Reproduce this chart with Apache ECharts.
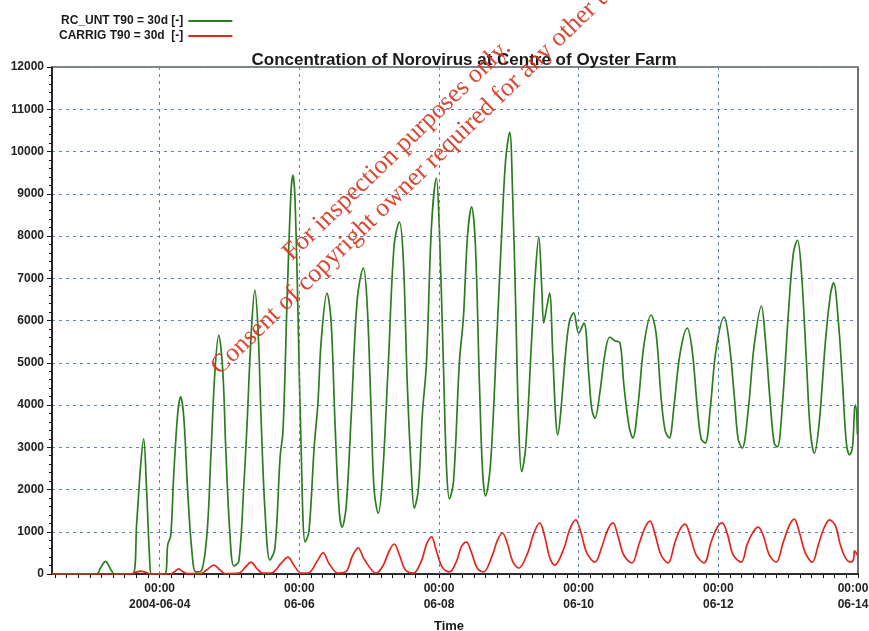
<!DOCTYPE html>
<html>
<head>
<meta charset="utf-8">
<script src="https://cdn.jsdelivr.net/npm/echarts@6/dist/echarts.min.js"></script>
<style>
html,body{margin:0;padding:0;background:#fff;}
#c{width:869px;height:631px;}
</style>
</head>
<body>
<div id="c"></div>
<script>
// Hours relative to 2004-06-04 00:00
const greenHours = [-37,-21.7,-20.3,-18.6,-16.9,-15.5,-9.3,-7.9,-6.5,-5.5,-4.5,-3.4,-2.8,1.7,2.8,3.8,4.8,6.2,7.2,8.3,9.6,11.0,12.4,14.1,16.2,17.6,19.0,20.3,21.7,22.7,24.1,25.5,27.2,28.9,30.0,31.4,32.7,33.8,34.8,36.2,37.9,39.6,41.4,42.4,43.8,45.1,45.8,46.5,47.6,48.6,50.0,51.3,53.1,54.4,55.5,57.5,58.9,60.3,61.7,62.7,64.1,65.8,67.9,70.0,71.3,72.7,73.7,75.1,76.5,78.6,80.6,82.4,83.7,85.1,86.5,87.5,88.9,90.3,91.7,93.4,95.1,96.1,97.5,98.6,99.6,101.0,103.0,104.4,105.8,107.2,108.5,109.9,111.0,112.0,113.7,115.8,117.5,118.9,120.3,121.3,122.3,123.4,124.4,125.8,127.8,129.2,130.3,131.3,132.0,133.0,134.0,135.1,136.1,136.8,137.8,139.6,140.9,142.3,144.0,145.8,147.5,148.5,149.6,151.3,153.0,154.7,156.4,158.2,159.5,161.3,162.6,164.4,166.4,168.9,170.6,172.3,173.7,175.1,176.8,178.8,181.3,183.0,184.7,186.1,187.5,189.2,191.2,194.0,195.7,197.5,198.8,200.2,202.3,204.3,206.8,208.1,209.9,211.2,212.3,214.0,216.1,217.8,219.2,220.5,222.3,223.6,225.0,226.7,228.8,230.5,231.6,233.3,234.7,236.0,237.1,238.1,238.8,239.2,239.8];
const greenValues = [0,0,150,300,120,0,0,1200,2600,3200,2000,300,0,0,700,900,2300,3800,4190,3700,2000,600,50,60,900,2800,4800,5650,4800,3000,1000,190,300,2060,3500,5600,6720,5800,3800,1500,330,600,2770,3400,6500,9000,9440,8900,6000,3000,760,1000,3000,4050,5500,6650,6000,3500,1500,1110,1600,3700,6500,7240,6400,3800,2000,1440,2200,5000,7800,8330,7500,4500,2400,1560,2000,3800,5000,8200,9370,8200,5000,2500,1780,2200,5000,6080,8000,8690,7800,4500,2400,1850,2600,5500,8000,9800,10460,9000,6500,3500,2420,3000,5500,7200,7980,6800,5940,6300,6650,5200,3700,3290,3800,5300,6000,6180,5700,5940,4700,3900,3690,4300,5200,5610,5520,5470,4500,3500,3220,4000,5400,6130,5700,4200,3400,3220,4000,5200,5820,5300,4000,3200,3100,3900,5300,6080,5500,4200,3200,2980,3900,5400,6340,5600,4000,3100,3010,4000,6200,7600,7900,7200,5000,3400,2860,3600,5500,6600,6890,5940,4500,3100,2820,3000,3880,4000,3300];

const redHours = [-37,-10.0,-8.3,-6.5,-4.8,-3.1,3.8,5.2,6.5,7.9,9.3,14.1,16.2,18.6,20.7,22.4,27.2,29.3,31.4,33.4,35.5,38.6,41.7,44.1,46.2,48.6,51.3,54.1,56.2,58.2,61.3,64.1,66.2,68.2,70.3,74.4,76.8,78.9,80.6,82.4,84.4,87.2,89.9,91.7,93.4,95.1,97.2,99.6,102.0,103.7,105.4,107.2,109.2,111.3,114.1,116.1,117.8,119.6,121.3,123.4,126.5,128.5,130.6,132.3,134.0,135.8,138.9,140.9,143.0,144.7,146.8,149.6,152.0,154.0,155.8,157.5,159.5,162.3,164.7,166.8,168.5,170.2,172.3,174.7,177.1,178.8,180.6,182.3,184.4,187.1,189.5,191.6,193.3,195.1,197.1,199.9,201.9,204.0,205.7,207.5,209.5,211.9,214.3,216.4,218.1,219.8,221.9,224.3,226.4,228.4,230.2,232.2,233.9,235.7,237.4,238.5,238.8,239.8];
const redValues = [0,0,40,70,40,0,0,60,120,60,10,10,100,210,100,10,20,150,280,130,20,30,250,400,200,20,30,300,500,250,20,60,420,620,350,20,200,550,710,450,100,20,300,700,880,550,150,50,300,650,760,500,130,50,400,800,970,700,300,140,500,950,1210,900,400,210,600,1050,1280,1000,500,280,650,1050,1210,900,450,260,700,1100,1250,950,450,260,750,1050,1180,900,450,260,750,1100,1210,950,450,280,700,1000,1110,900,450,280,750,1150,1300,1000,500,280,700,1100,1280,1150,700,380,280,350,550,450];

const seriesNames = ['RC_UNT T90 = 30d [-]', 'CARRIG T90 = 30d  [-]'];
const tickHours = [0, 48, 96, 144, 192, 240];
const tickDates = ['2004-06-04', '06-06', '06-08', '06-10', '06-12', '06-14'];
const minorTickHours = Array.from({length: 70}, (_, i) => -36 + 4 * i); // every 4 h
const titleText = 'Concentration of Norovirus at Centre of Oyster Farm';
const watermark1 = 'For inspection purposes only.';
const watermark2 = 'Consent of copyright owner required for any other use.';

const zip = (xs, ys) => xs.map((x, i) => [x, ys[i]]);
const chart = echarts.init(document.getElementById('c'), null, {renderer: 'canvas'});
const gridDash = {color: '#5d83b8', type: [3, 4], width: 1};
const fontFam = 'Liberation Sans Narrow, Liberation Sans, Arial, sans-serif';
const rot = 44 * Math.PI / 180;
const wmFont = '26px "Liberation Serif", "DejaVu Serif", serif';

chart.setOption({
  animation: false,
  backgroundColor: '#fff',
  title: {
    text: titleText, left: 459, top: 47, textAlign: 'center',
    textStyle: {fontFamily: fontFam, fontSize: 17, fontWeight: 'bold', color: '#1a1a1a'}
  },
  legend: {
    data: seriesNames, orient: 'vertical', left: 54, top: 10, align: 'right',
    itemWidth: 44, itemHeight: 2, itemGap: 3, icon: 'rect',
    textStyle: {fontFamily: fontFam, fontSize: 12, fontWeight: 'bold', color: '#1a1a1a', width: 134}
  },
  grid: {left: 52, right: 11, top: 67, bottom: 57, show: true, borderColor: '#111', borderWidth: 1.2,
    containLabel: false, outerBoundsMode: 'none'},
  xAxis: {
    type: 'value', min: -37, max: 240,
    name: 'Time', nameLocation: 'middle', nameGap: 46,
    nameTextStyle: {fontFamily: fontFam, fontSize: 13, fontWeight: 'bold', color: '#1a1a1a', padding: [0, 12, 0, 0]},
    axisLine: {show: true, onZero: false, lineStyle: {color: '#111', width: 1.5}},
    axisTick: {show: true, length: 4, customValues: minorTickHours, lineStyle: {color: '#111', width: 1}},
    splitLine: {show: false},
    axisLabel: {
      show: true, margin: 7, fontFamily: fontFam, fontSize: 12, fontWeight: 'bold', color: '#222', lineHeight: 16,
      customValues: tickHours,
      formatter: function (v) {
        const i = tickHours.indexOf(v);
        if (i < 0) return '';
        if (i === tickHours.length - 1) return '{last|00:00}\n{last|' + tickDates[i] + '}';
        return '00:00\n' + tickDates[i];
      },
      rich: {last: {fontFamily: fontFam, fontSize: 12, fontWeight: 'bold', color: '#222', lineHeight: 16, padding: [0, 10, 0, 0]}}
    }
  },
  yAxis: {
    type: 'value', min: 0, max: 12000, interval: 1000,
    axisLine: {show: true, onZero: false, lineStyle: {color: '#111', width: 1.5}},
    axisTick: {show: true, length: 5, lineStyle: {color: '#111'}},
    minorTick: {show: true, splitNumber: 5, length: 3, lineStyle: {color: '#111'}},
    splitLine: {show: true, lineStyle: gridDash},
    axisLabel: {margin: 8, fontFamily: fontFam, fontSize: 12, fontWeight: 'bold', color: '#222',
      formatter: function (v) { return String(v); }}
  },
  graphic: [
    {type: 'text', x: 296, y: 266, rotation: rot, z: 100, silent: true,
     style: {text: watermark1, font: wmFont, fill: 'rgba(214,52,30,0.9)', textAlign: 'left', textVerticalAlign: 'bottom'}},
    {type: 'text', x: 224, y: 380, rotation: rot, z: 100, silent: true,
     style: {text: watermark2, font: wmFont, fill: 'rgba(214,52,30,0.9)', textAlign: 'left', textVerticalAlign: 'bottom'}}
  ],
  series: [
    {
      name: 'grid', type: 'line', data: [], z: 1, silent: true,
      markLine: {silent: true, symbol: ['none', 'none'], label: {show: false}, lineStyle: gridDash,
        data: tickHours.slice(0, 5).map(h => ({xAxis: h}))}
    },
    {
      name: seriesNames[0], type: 'line', data: zip(greenHours, greenValues), smooth: 0.35, showSymbol: false, z: 3,
      lineStyle: {color: '#2b7d1f', width: 1.7}, itemStyle: {color: '#2b7d1f'}
    },
    {
      name: seriesNames[1], type: 'line', data: zip(redHours, redValues), smooth: 0.35, showSymbol: false, z: 4,
      lineStyle: {color: '#e3261c', width: 1.7}, itemStyle: {color: '#e3261c'}
    }
  ]
});
</script>
</body>
</html>
